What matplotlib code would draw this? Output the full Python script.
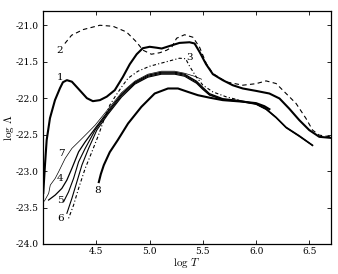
import numpy as np
import matplotlib
matplotlib.use("Agg")
import matplotlib.pyplot as plt

plt.rcParams['font.family'] = 'serif'
plt.rcParams['font.serif'] = ['DejaVu Serif']
plt.rcParams['mathtext.fontset'] = 'cm'

# curve 1 (thick solid)
t1 = [4.0, 4.016, 4.032, 4.063, 4.11, 4.157, 4.185, 4.222, 4.269, 4.325, 4.41, 4.466,
      4.532, 4.597, 4.672, 4.747, 4.813, 4.878, 4.935, 5.0, 5.066, 5.113, 5.188, 5.28,
      5.375, 5.422, 5.469, 5.53, 5.594, 5.687, 5.78, 5.875, 6.0, 6.125, 6.22, 6.31,
      6.406, 6.5, 6.594, 6.7]
l1 = [-23.30, -22.918, -22.575, -22.274, -22.027, -21.863, -21.781, -21.753, -21.774,
      -21.863, -22.0, -22.041, -22.027, -21.979, -21.89, -21.712, -21.534, -21.397,
      -21.315, -21.295, -21.308, -21.319, -21.284, -21.242, -21.233, -21.25, -21.366,
      -21.534, -21.671, -21.753, -21.822, -21.867, -21.9, -21.936, -22.004, -22.141,
      -22.301, -22.438, -22.53, -22.544]

# curve 2 (dashed)
t2 = [4.203, 4.266, 4.375, 4.532, 4.656, 4.782, 4.876, 4.9375, 5.016, 5.094, 5.16,
      5.207, 5.253, 5.328, 5.406, 5.469, 5.532, 5.594, 5.72, 5.875, 6.0, 6.094, 6.188,
      6.282, 6.376, 6.469, 6.531, 6.594, 6.7]
l2 = [-21.25, -21.137, -21.059, -21.0, -21.014, -21.092, -21.229, -21.342, -21.397,
      -21.377, -21.342, -21.301, -21.178, -21.13, -21.164, -21.301, -21.525, -21.662,
      -21.777, -21.822, -21.801, -21.763, -21.799, -21.936, -22.073, -22.278, -22.438,
      -22.507, -22.53]

# curve 3 (dotted)
t3 = [4.238, 4.285, 4.332, 4.394, 4.457, 4.519, 4.569, 4.625, 4.672, 4.735, 4.797,
      4.89, 5.0, 5.141, 5.28, 5.338, 5.375, 5.438, 5.5, 5.594, 5.72, 5.844]
l3 = [-23.648, -23.466, -23.237, -22.963, -22.736, -22.507, -22.301, -22.096, -21.986,
      -21.849, -21.726, -21.63, -21.562, -21.507, -21.452, -21.459, -21.562, -21.708,
      -21.822, -21.914, -21.982, -22.027]

# curves 4, 5, 6 (bundle)
t4 = [4.05, 4.112, 4.175, 4.222, 4.269, 4.332, 4.394, 4.4875, 4.609, 4.735, 4.86,
      4.984, 5.11, 5.235, 5.328, 5.375, 5.44, 5.497, 5.5625, 5.6875, 5.844, 6.0, 6.094,
      6.188, 6.282, 6.406, 6.531]
l4 = [-23.397, -23.329, -23.237, -23.123, -22.963, -22.736, -22.599, -22.415, -22.178,
      -21.945, -21.781, -21.685, -21.644, -21.644, -21.671, -21.712, -21.767, -21.849,
      -21.938, -22.007, -22.032, -22.075, -22.144, -22.26, -22.397, -22.514, -22.644]

t5 = [4.191, 4.238, 4.285, 4.332, 4.394, 4.4875, 4.609, 4.735, 4.86, 4.984, 5.11,
      5.235, 5.328, 5.375, 5.44, 5.497, 5.5625, 5.6875, 5.844, 6.0, 6.094, 6.188, 6.282,
      6.406, 6.531]
l5 = [-23.421, -23.284, -23.1, -22.873, -22.689, -22.438, -22.199, -21.966, -21.795,
      -21.699, -21.658, -21.658, -21.685, -21.726, -21.781, -21.863, -21.951, -22.014,
      -22.038, -22.08, -22.15, -22.265, -22.402, -22.52, -22.648]

t6 = [4.222, 4.269, 4.316, 4.363, 4.426, 4.503, 4.609, 4.735, 4.86, 4.984, 5.11,
      5.235, 5.328, 5.375, 5.44, 5.497, 5.5625, 5.6875, 5.844, 6.0, 6.094, 6.188, 6.282,
      6.406, 6.531]
l6 = [-23.579, -23.374, -23.147, -22.918, -22.689, -22.438, -22.219, -21.986, -21.808,
      -21.712, -21.671, -21.671, -21.699, -21.74, -21.795, -21.877, -21.959, -22.021,
      -22.044, -22.085, -22.155, -22.27, -22.407, -22.525, -22.652]

# curve 7 (thin)
t7 = [4.011, 4.051, 4.066, 4.112, 4.144, 4.206, 4.269, 4.332, 4.426, 4.4875, 4.609,
      4.735, 4.86, 4.984, 5.11, 5.235, 5.328, 5.42, 5.488]
l7 = [-23.411, -23.305, -23.192, -23.1, -23.01, -22.826, -22.689, -22.599, -22.462,
      -22.37, -22.151, -21.925, -21.767, -21.671, -21.63, -21.63, -21.658, -21.699,
      -21.74]

# curve 8 (thick)
t8 = [4.522, 4.541, 4.569, 4.625, 4.7, 4.797, 4.922, 5.047, 5.172, 5.266, 5.36, 5.453,
      5.5625, 5.6875, 5.875, 6.0, 6.078, 6.125]
l8 = [-23.151, -23.041, -22.918, -22.74, -22.575, -22.347, -22.119, -21.936, -21.867,
      -21.867, -21.914, -21.959, -21.993, -22.027, -22.048, -22.068, -22.11, -22.151]

labels = ['1', '2', '3', '4', '5', '6', '7', '8']
label_t = [4.157, 4.157, 5.375, 4.16, 4.16, 4.16, 4.175, 4.508]
label_l = [-21.72, -21.35, -21.44, -23.1, -23.4, -23.65, -22.76, -23.27]

fig = plt.figure(figsize=(3.38, 2.74), dpi=100)
ax = fig.add_axes([0.128, 0.1095, 0.85, 0.8515])

ax.plot(t1, l1, color='black', lw=1.5)
ax.plot(t2, l2, color='black', lw=0.8, dashes=(4, 3))
ax.plot(t3, l3, color='black', lw=0.8, dashes=(1, 2, 3, 2))
ax.plot(t4, l4, color='black', lw=0.9)
ax.plot(t5, l5, color='black', lw=0.8)
ax.plot(t6, l6, color='black', lw=0.8)
ax.plot(t7, l7, color='black', lw=0.5)
ax.plot(t8, l8, color='black', lw=1.5)

for s, x, y in zip(labels, label_t, label_l):
    ax.text(x, y, s, fontsize=7.5, ha='center', va='center')

ax.set_xlim(4.0, 6.7)
ax.set_ylim(-24.0, -20.8)
ax.set_xticks([4.5, 5.0, 5.5, 6.0, 6.5])
ax.set_yticks([-24.0, -23.5, -23.0, -22.5, -22.0, -21.5, -21.0])
ax.set_xticklabels(['4.5', '5.0', '5.5', '6.0', '6.5'])
ax.set_yticklabels(['-24.0', '-23.5', '-23.0', '-22.5', '-22.0', '-21.5', '-21.0'])
ax.tick_params(direction='in', top=True, right=True, labelsize=6.5, length=3, width=0.6)
ax.tick_params(axis='x', pad=2.5)
for sp in ax.spines.values():
    sp.set_linewidth(0.9)
ax.set_xlabel(r'$\log\,T$', fontsize=8, va='center', ha='center')
ax.set_ylabel(r'$\log\,\Lambda$', fontsize=8, va='center', ha='center')
ax.yaxis.set_label_coords(-0.12, 0.5)
ax.xaxis.set_label_coords(0.5, -0.083)

fig.savefig('out.png', dpi=100)
